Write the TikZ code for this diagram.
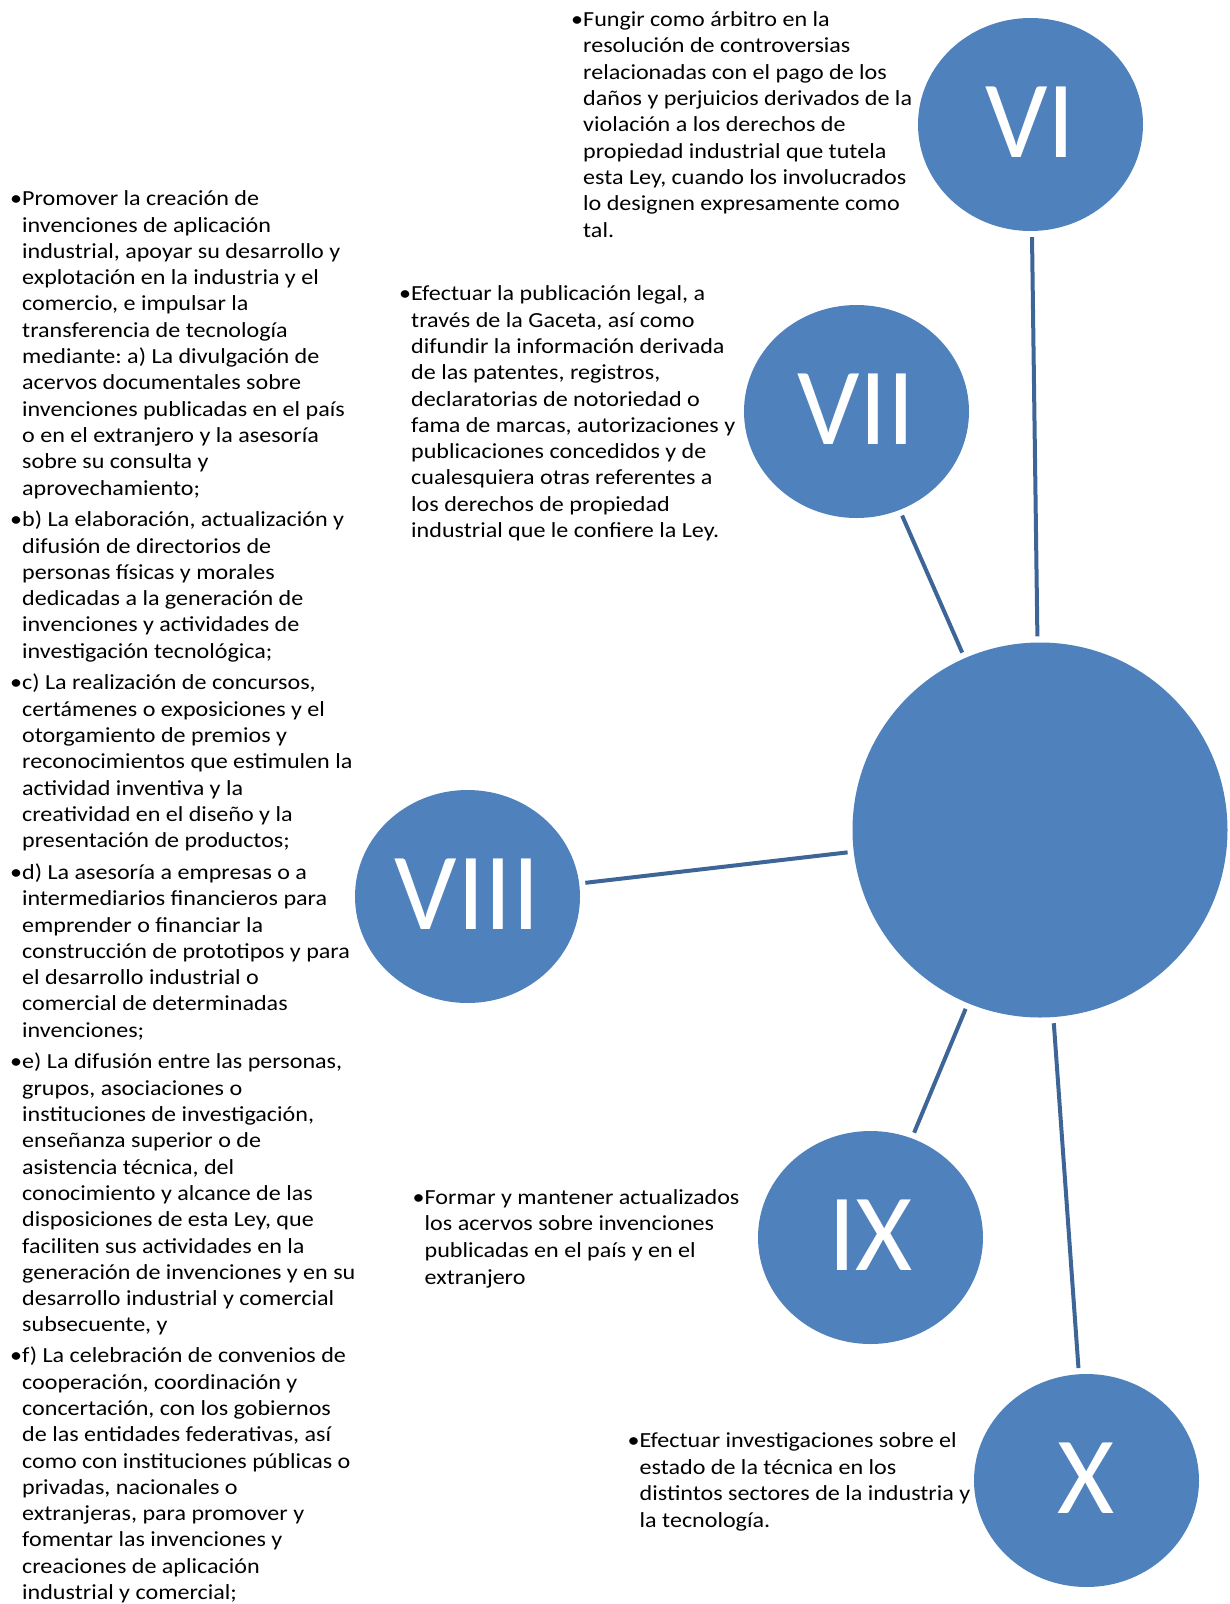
\documentclass[tikz,border=0pt]{standalone}
\usepackage{fontspec}
\setmainfont{Carlito}
\newfontfamily\bodyfont[FakeStretch=1.12]{Carlito}
\usetikzlibrary{shapes.geometric}
\definecolor{circblue}{HTML}{4F81BD}
\definecolor{lineblue}{HTML}{3D6598}
\tikzset{
  bigball/.style={circle, fill=circblue, inner sep=0pt, minimum size=375pt},
  ball/.style={ellipse, fill=circblue, inner sep=0pt, minimum width=225pt, minimum height=213pt,
    text=white, font=\fontsize{110}{110}\selectfont},
  txt/.style={align=left, inner sep=0pt, anchor=base west, text=black,
    font=\bodyfont\frenchspacing\fontsize{21.5}{26.3}\selectfont},
  wtxt/.style={txt, font=\bodyfont\frenchspacing\fontsize{21.5}{26.6}\selectfont},
  link/.style={draw=lineblue, line width=4pt, shorten <=6pt, shorten >=6pt}
}
\newcommand{\bul}{\llap{•}}
\frenchspacing
\begin{document}
\begin{tikzpicture}[x=1pt,y=-1pt]
\useasboundingbox (0,0) rectangle (1230,1604);
\node[bigball] (c0) at (1040,830) {};
\node[ball] (c6) at (1030.5,124.5) {\raisebox{4pt}{VI}};
\node[ball] (c7) at (856.5,411.5) {\raisebox{4pt}{VII}};
\node[ball] (c8) at (467.5,896.5) {\raisebox{4pt}{VIII}};
\node[ball] (c9) at (870.5,1237.5) {\raisebox{4pt}{IX}};
\node[ball] (c10) at (1086.5,1480.5) {\raisebox{4pt}{X}};
\draw[link] (c6) -- (c0);
\draw[link] (c7) -- (c0);
\draw[link] (c8) -- (c0);
\draw[link] (c9) -- (c0);
\draw[link] (c10) -- (c0);
\node[txt] (t6) at (583,237) {\bul Fungir como árbitro en la\\
resolución de controversias\\
relacionadas con el pago de los\\
daños y perjuicios derivados de la\\
violación a los derechos de\\
propiedad industrial que tutela\\
esta Ley, cuando los involucrados\\
lo designen expresamente como\\
tal.};
\node[txt] (t7) at (411,537.5) {\bul Efectuar la publicación legal, a\\
través de la Gaceta, así como\\
difundir la información derivada\\
de las patentes, registros,\\
declaratorias de notoriedad o\\
fama de marcas, autorizaciones y\\
publicaciones concedidos y de\\
cualesquiera otras referentes a\\
los derechos de propiedad\\
industrial que le confiere la Ley.};
\node[txt] (t8) at (22,1599.5) {\bul Promover la creación de\\
invenciones de aplicación\\
industrial, apoyar su desarrollo y\\
explotación en la industria y el\\
comercio, e impulsar la\\
transferencia de tecnología\\
mediante: a) La divulgación de\\
acervos documentales sobre\\
invenciones publicadas en el país\\
o en el extranjero y la asesoría\\
sobre su consulta y\\
aprovechamiento;\\[5.4pt]
\bul b) La elaboración, actualización y\\
difusión de directorios de\\
personas físicas y morales\\
dedicadas a la generación de\\
invenciones y actividades de\\
investigación tecnológica;\\[5.4pt]
\bul c) La realización de concursos,\\
certámenes o exposiciones y el\\
otorgamiento de premios y\\
reconocimientos que estimulen la\\
actividad inventiva y la\\
creatividad en el diseño y la\\
presentación de productos;\\[5.4pt]
\bul d) La asesoría a empresas o a\\
intermediarios financieros para\\
emprender o financiar la\\
construcción de prototipos y para\\
el desarrollo industrial o\\
comercial de determinadas\\
invenciones;\\[5.4pt]
\bul e) La difusión entre las personas,\\
grupos, asociaciones o\\
instituciones de investigación,\\
enseñanza superior o de\\
asistencia técnica, del\\
conocimiento y alcance de las\\
disposiciones de esta Ley, que\\
faciliten sus actividades en la\\
generación de invenciones y en su\\
desarrollo industrial y comercial\\
subsecuente, y\\[4.6pt]
\bul f) La celebración de convenios de\\
cooperación, coordinación y\\
concertación, con los gobiernos\\
de las entidades federativas, así\\
como con instituciones públicas o\\
privadas, nacionales o\\
extranjeras, para promover y\\
fomentar las invenciones y\\
creaciones de aplicación\\
industrial y comercial;};
\node[wtxt] (t9) at (424.5,1284) {\bul Formar y mantener actualizados\\
los acervos sobre invenciones\\
publicadas en el país y en el\\
extranjero};
\node[wtxt] (t10) at (639.5,1527.5) {\bul Efectuar investigaciones sobre el\\
estado de la técnica en los\\
distintos sectores de la industria y\\
la tecnología.};
\end{tikzpicture}
\end{document}
